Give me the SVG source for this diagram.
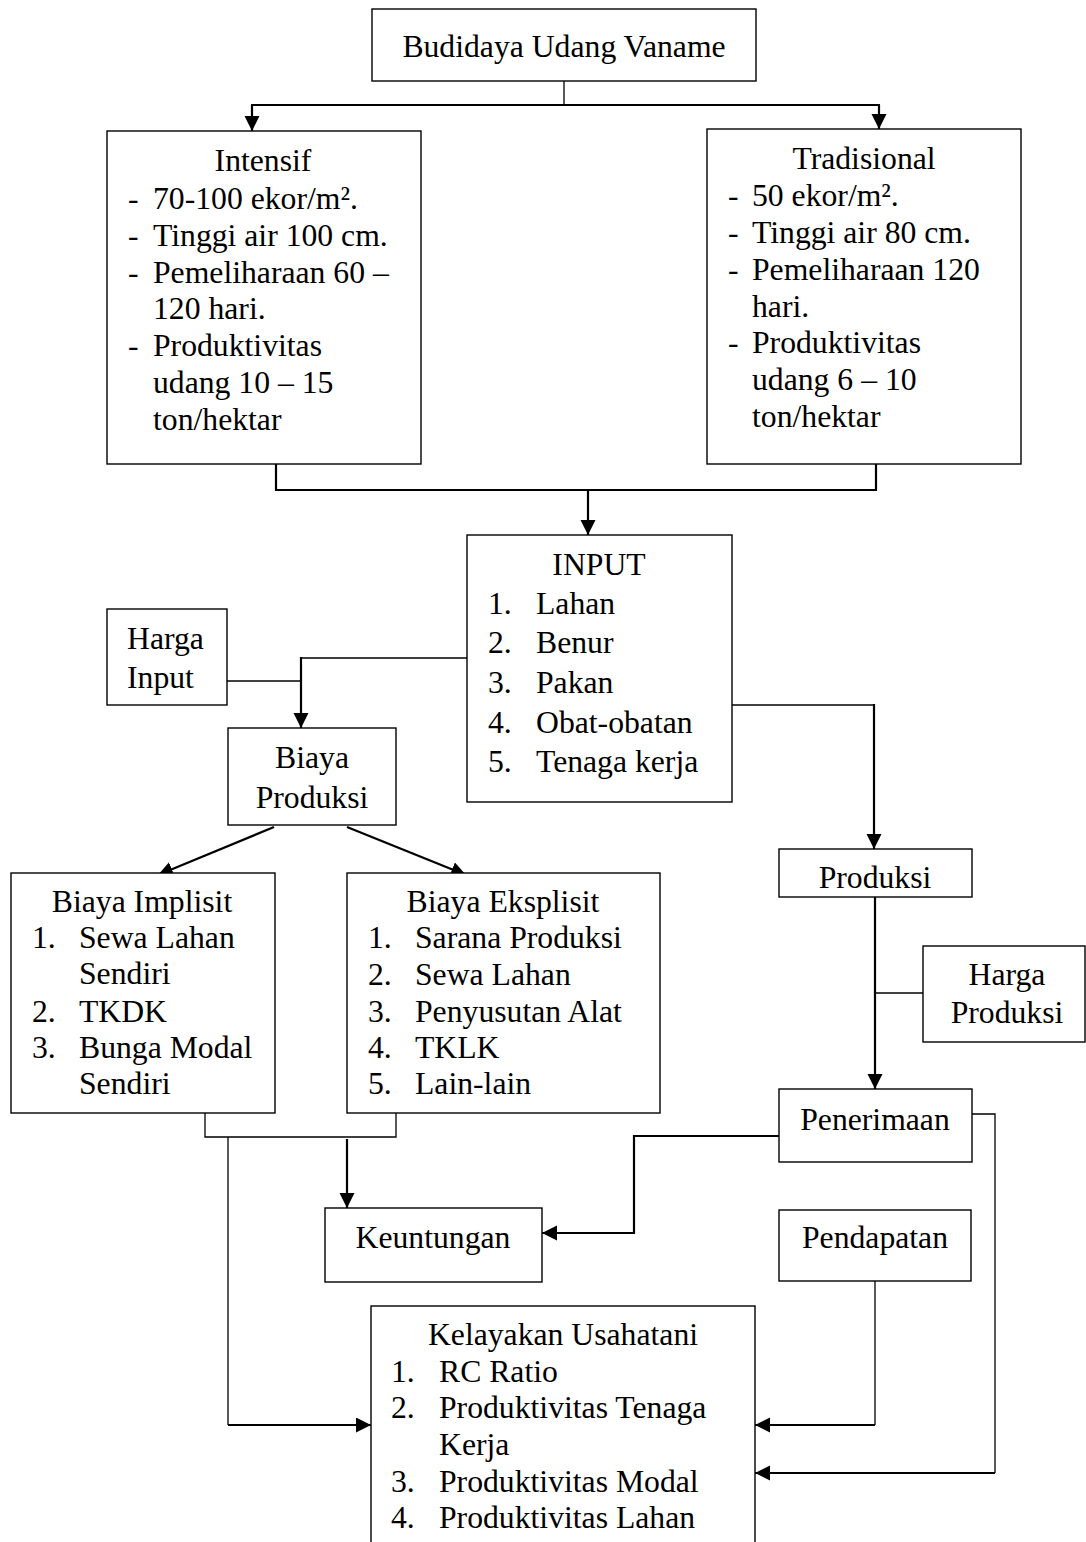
<svg xmlns="http://www.w3.org/2000/svg" width="1086" height="1542" viewBox="0 0 1086 1542">
<style>
.box{fill:#fff;stroke:#000;stroke-width:1.4}
text{font-family:"Liberation Serif","Times New Roman",serif;font-size:31.7px;fill:#000}
.c{text-anchor:middle}
.thin{fill:none;stroke:#000;stroke-width:1.3}
.thick{fill:none;stroke:#000;stroke-width:2.2}
</style>
<defs>
<marker id="arr" markerUnits="userSpaceOnUse" markerWidth="16" markerHeight="16" refX="15" refY="7.5" orient="auto">
<path d="M0,0 L15,7.5 L0,15 z" fill="#000"/>
</marker>
<clipPath id="clipProd"><rect x="779" y="849" width="193" height="40"/></clipPath>
</defs>
<rect width="1086" height="1542" fill="#fff"/>

<g id="connectors">
<line class="thin" x1="564" y1="81" x2="564" y2="105"/>
<line class="thick" x1="251" y1="105" x2="880" y2="105"/>
<line class="thick" x1="252" y1="105" x2="252" y2="131" marker-end="url(#arr)"/>
<line class="thick" x1="879" y1="105" x2="879" y2="129" marker-end="url(#arr)"/>
<polyline class="thick" points="276,464 276,490 876,490 876,464"/>
<line class="thick" x1="588" y1="490" x2="588" y2="535" marker-end="url(#arr)"/>
<polyline class="thin" points="467,658 301,658"/>
<line class="thick" x1="301" y1="657" x2="301" y2="728" marker-end="url(#arr)"/>
<line class="thin" x1="227" y1="681" x2="301" y2="681"/>
<line class="thick" x1="274" y1="827" x2="158" y2="875" marker-end="url(#arr)"/>
<line class="thick" x1="347" y1="827" x2="466" y2="875" marker-end="url(#arr)"/>
<polyline class="thin" points="205,1113 205,1137 396,1137 396,1113"/>
<polyline class="thin" points="228,1137 228,1425"/>
<line class="thick" x1="228" y1="1425" x2="371" y2="1425" marker-end="url(#arr)"/>
<line class="thick" x1="347" y1="1139" x2="347" y2="1208" marker-end="url(#arr)"/>
<line class="thin" x1="732" y1="705" x2="874" y2="705"/>
<line class="thick" x1="874" y1="704" x2="874" y2="849" marker-end="url(#arr)"/>
<line class="thick" x1="875" y1="897" x2="875" y2="1089" marker-end="url(#arr)"/>
<line class="thin" x1="875" y1="993" x2="923" y2="993"/>
<polyline class="thick" points="779,1136 634,1136 634,1233 542,1233" marker-end="url(#arr)"/>
<polyline class="thin" points="972,1114 995,1114 995,1473"/>
<line class="thick" x1="995" y1="1473" x2="755" y2="1473" marker-end="url(#arr)"/>
<polyline class="thin" points="875,1281 875,1425"/>
<line class="thick" x1="875" y1="1425" x2="755" y2="1425" marker-end="url(#arr)"/>
</g>

<g id="budidaya">
<rect class="box" x="372" y="9" width="384" height="72"/>
<text class="c" x="564" y="57">Budidaya Udang Vaname</text>
</g>

<g id="intensif">
<rect class="box" x="107" y="131" width="314" height="333"/>
<text class="c" x="263" y="171">Intensif</text>
<text x="128" y="209">-</text><text x="153" y="209">70-100 ekor/m².</text>
<text x="128" y="246">-</text><text x="153" y="246">Tinggi air 100 cm.</text>
<text x="128" y="283">-</text><text x="153" y="283">Pemeliharaan 60 –</text>
<text x="153" y="319">120 hari.</text>
<text x="128" y="356">-</text><text x="153" y="356">Produktivitas</text>
<text x="153" y="393">udang 10 – 15</text>
<text x="153" y="430">ton/hektar</text>
</g>

<g id="tradisional">
<rect class="box" x="707" y="129" width="314" height="335"/>
<text class="c" x="864" y="169">Tradisional</text>
<text x="728" y="206">-</text><text x="752" y="206">50 ekor/m².</text>
<text x="728" y="243">-</text><text x="752" y="243">Tinggi air 80 cm.</text>
<text x="728" y="280">-</text><text x="752" y="280">Pemeliharaan 120</text>
<text x="752" y="317">hari.</text>
<text x="728" y="353">-</text><text x="752" y="353">Produktivitas</text>
<text x="752" y="390">udang 6 – 10</text>
<text x="752" y="427">ton/hektar</text>
</g>

<g id="input">
<rect class="box" x="467" y="535" width="265" height="267"/>
<text class="c" x="599" y="575">INPUT</text>
<text x="488" y="614">1.</text><text x="536" y="614">Lahan</text>
<text x="488" y="653">2.</text><text x="536" y="653">Benur</text>
<text x="488" y="693">3.</text><text x="536" y="693">Pakan</text>
<text x="488" y="733">4.</text><text x="536" y="733">Obat-obatan</text>
<text x="488" y="772">5.</text><text x="536" y="772">Tenaga kerja</text>
</g>

<g id="harga-input">
<rect class="box" x="107" y="609" width="120" height="96"/>
<text x="127" y="649">Harga</text>
<text x="127" y="688">Input</text>
</g>

<g id="biaya-produksi">
<rect class="box" x="228" y="728" width="168" height="97"/>
<text class="c" x="312" y="768">Biaya</text>
<text class="c" x="312" y="808">Produksi</text>
</g>

<g id="biaya-implisit">
<rect class="box" x="11" y="873" width="264" height="240"/>
<text class="c" x="142" y="912">Biaya Implisit</text>
<text x="32" y="948">1.</text><text x="79" y="948">Sewa Lahan</text>
<text x="79" y="984">Sendiri</text>
<text x="32" y="1022">2.</text><text x="79" y="1022">TKDK</text>
<text x="32" y="1058">3.</text><text x="79" y="1058">Bunga Modal</text>
<text x="79" y="1094">Sendiri</text>
</g>

<g id="biaya-eksplisit">
<rect class="box" x="347" y="873" width="313" height="240"/>
<text class="c" x="503" y="912">Biaya Eksplisit</text>
<text x="368" y="948">1.</text><text x="415" y="948">Sarana Produksi</text>
<text x="368" y="985">2.</text><text x="415" y="985">Sewa Lahan</text>
<text x="368" y="1022">3.</text><text x="415" y="1022">Penyusutan Alat</text>
<text x="368" y="1058">4.</text><text x="415" y="1058">TKLK</text>
<text x="368" y="1094">5.</text><text x="415" y="1094">Lain-lain</text>
</g>

<g id="produksi">
<rect class="box" x="779" y="849" width="193" height="48"/>
<text class="c" x="875" y="888" clip-path="url(#clipProd)">Produksi</text>
</g>

<g id="harga-produksi">
<rect class="box" x="923" y="946" width="162" height="96"/>
<text class="c" x="1007" y="985">Harga</text>
<text class="c" x="1007" y="1023">Produksi</text>
</g>

<g id="penerimaan">
<rect class="box" x="779" y="1089" width="193" height="73"/>
<text class="c" x="875" y="1130">Penerimaan</text>
</g>

<g id="keuntungan">
<rect class="box" x="325" y="1208" width="217" height="74"/>
<text class="c" x="433" y="1248">Keuntungan</text>
</g>

<g id="pendapatan">
<rect class="box" x="779" y="1210" width="192" height="71"/>
<text class="c" x="875" y="1248">Pendapatan</text>
</g>

<g id="kelayakan">
<rect class="box" x="371" y="1306" width="384" height="260"/>
<text class="c" x="563" y="1345">Kelayakan Usahatani</text>
<text x="391" y="1382">1.</text><text x="439" y="1382">RC Ratio</text>
<text x="391" y="1418">2.</text><text x="439" y="1418">Produktivitas Tenaga</text>
<text x="439" y="1455">Kerja</text>
<text x="391" y="1492">3.</text><text x="439" y="1492">Produktivitas Modal</text>
<text x="391" y="1528">4.</text><text x="439" y="1528">Produktivitas Lahan</text>
</g>
</svg>
